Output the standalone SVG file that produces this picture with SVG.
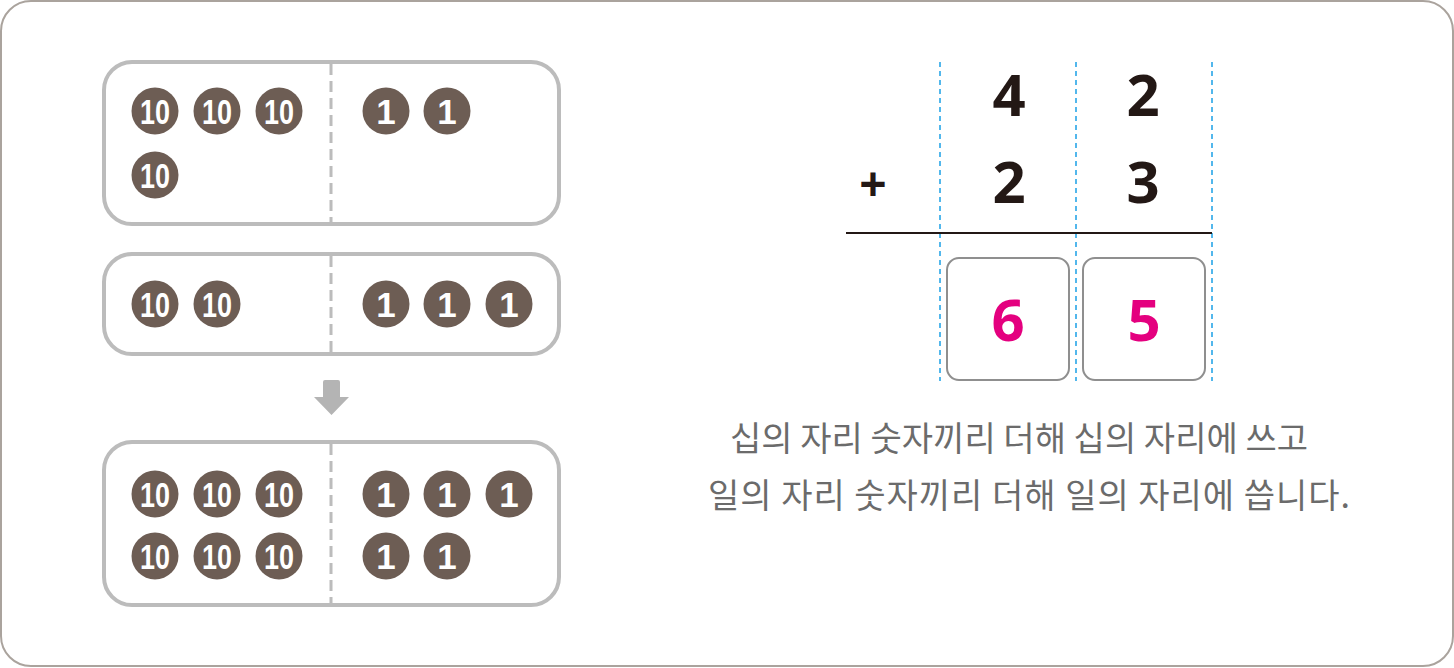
<svg xmlns="http://www.w3.org/2000/svg" width="1454" height="668" viewBox="0 0 1454 668">
<style>
.frame{fill:#fff;stroke:#aaa39d;stroke-width:2}
.box{fill:#fff;stroke:#bcbcbc;stroke-width:4}
.div{stroke:#bcbcbc;stroke-width:3;stroke-dasharray:11 6}
.coin{fill:#6d5d54}
.ct{fill:#fff;font-family:"Liberation Sans",Arial,sans-serif;font-weight:bold;font-size:35px;text-anchor:middle}
.guide{stroke:#1aa0e6;stroke-width:1.5;stroke-dasharray:5 4}
.dig{fill:#231815;font-family:"Noto Sans","Liberation Sans",sans-serif;font-weight:bold;font-size:58px;text-anchor:middle}
.ans{fill:#e4007f;font-family:"Noto Sans","Liberation Sans",sans-serif;font-weight:bold;font-size:58px;text-anchor:middle}
.abox{fill:#fff;stroke:#8f8f8f;stroke-width:2}
.kr{fill:#6b6b6b;font-family:"Noto Sans CJK KR",sans-serif;font-size:34px}
</style>
<defs>
<g id="ten"><circle class="coin" r="23.5"/><text class="ct" y="12.5" textLength="30" lengthAdjust="spacingAndGlyphs">10</text></g>
<g id="one"><circle class="coin" r="23.5"/><text class="ct" y="12.5">1</text></g>
</defs>
<rect class="frame" x="1" y="1" width="1452" height="665" rx="30"/>
<g id="box1">
<rect class="box" x="104" y="62" width="455" height="162" rx="28"/>
<line class="div" x1="331" y1="64" x2="331" y2="222"/>
<use href="#ten" x="155" y="111"/><use href="#ten" x="217" y="111"/><use href="#ten" x="279" y="111"/>
<use href="#ten" x="155" y="175"/>
<use href="#one" x="386" y="111"/><use href="#one" x="447" y="111"/>
</g>
<g id="box2">
<rect class="box" x="104" y="254" width="455" height="100" rx="28"/>
<line class="div" x1="331" y1="256" x2="331" y2="352"/>
<use href="#ten" x="155" y="304"/><use href="#ten" x="217" y="304"/>
<use href="#one" x="386" y="304"/><use href="#one" x="447" y="304"/><use href="#one" x="509" y="304"/>
</g>
<g id="arrow">
<path d="M323,382 Q323,380 325,380 L338,380 Q340,380 340,382 L340,397 L349,397 L331.5,415 L314,397 L323,397 Z" fill="#b4b4b4"/>
</g>
<g id="box3">
<rect class="box" x="104" y="442" width="455" height="163" rx="28"/>
<line class="div" x1="331" y1="444" x2="331" y2="603"/>
<use href="#ten" x="155" y="494"/><use href="#ten" x="217" y="494"/><use href="#ten" x="279" y="494"/>
<use href="#ten" x="155" y="556"/><use href="#ten" x="217" y="556"/><use href="#ten" x="279" y="556"/>
<use href="#one" x="386" y="494"/><use href="#one" x="447" y="494"/><use href="#one" x="509" y="494"/>
<use href="#one" x="386" y="556"/><use href="#one" x="447" y="556"/>
</g>
<g id="connectors">
<line class="guide" x1="940" y1="62" x2="940" y2="381"/>
<line class="guide" x1="1076" y1="62" x2="1076" y2="381"/>
<line class="guide" x1="1212" y1="62" x2="1212" y2="381"/>
<line x1="846" y1="233" x2="1212" y2="233" stroke="#231815" stroke-width="2"/>
</g>
<g id="addition">
<text class="dig" x="1009" y="116">4</text>
<text class="dig" x="1143" y="116">2</text>
<text class="dig" x="873" y="201" style="font-size:48px">+</text>
<text class="dig" x="1009" y="203">2</text>
<text class="dig" x="1143" y="203">3</text>
</g>
<g id="answer-tens">
<rect class="abox" x="947" y="258" width="122" height="122" rx="12"/>
<text class="ans" x="1008" y="341">6</text>
</g>
<g id="answer-ones">
<rect class="abox" x="1083" y="258" width="122" height="122" rx="12"/>
<text class="ans" x="1144" y="341">5</text>
</g>
<g id="caption">
<text class="kr" x="730" y="451" textLength="578">십의 자리 숫자끼리 더해 십의 자리에 쓰고</text>
<text class="kr" x="708" y="508" textLength="642">일의 자리 숫자끼리 더해 일의 자리에 씁니다.</text>
</g>
</svg>
